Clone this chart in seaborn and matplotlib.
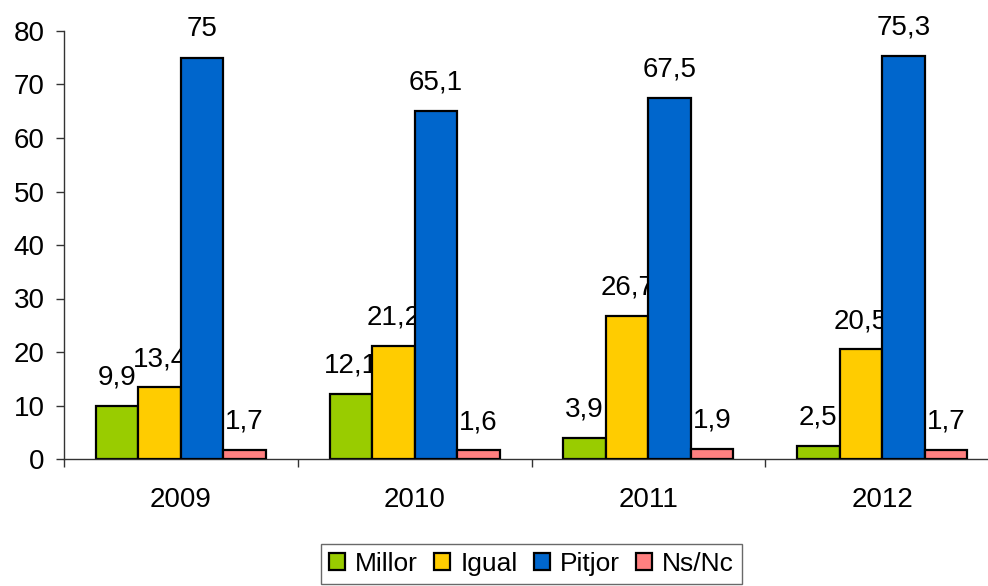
import numpy as np
import pandas as pd
import matplotlib
matplotlib.use("Agg")
import matplotlib.pyplot as plt
import seaborn as sns

years = ["2009", "2010", "2011", "2012"]
series = ["Millor", "Igual", "Pitjor", "Ns/Nc"]
millor = [9.9, 12.1, 3.9, 2.5]
igual = [13.4, 21.2, 26.7, 20.5]
pitjor = [75.0, 65.1, 67.5, 75.3]
nsnc = [1.7, 1.6, 1.9, 1.7]
colors = ["#99CC00", "#FFCC00", "#0066CC", "#FF8080"]

sns.set_style("white")
plt.rcParams['font.family'] = ['Liberation Sans', 'DejaVu Sans']
plt.rcParams['text.color'] = 'black'
plt.rcParams['xtick.color'] = 'black'
plt.rcParams['ytick.color'] = 'black'
FS = 20

df = pd.DataFrame({
    'year': years * 4,
    'serie': np.repeat(series, 4),
    'value': millor + igual + pitjor + nsnc,
})

fig = plt.figure(figsize=(9.88, 5.86), dpi=100)
ax = fig.add_axes([64 / 988, 127 / 586, 935 / 988, 428 / 586])

sns.barplot(data=df, x='year', y='value', hue='serie', order=years,
            hue_order=series, palette=colors, width=0.727, gap=0,
            edgecolor='black', linewidth=1.6, saturation=1, errorbar=None, ax=ax)

# value labels with comma decimals; later series' bars cover earlier labels
for i, cont in enumerate(ax.containers):
    for b in cont:
        b.set_zorder(2 + 2 * i)
    labels = [f"{b.get_height():g}".replace('.', ',') for b in cont]
    texts = ax.bar_label(cont, labels=labels, padding=11, fontsize=FS)
    for t in texts:
        t.set_zorder(3 + 2 * i)

ax.set_ylim(0, 80)
ax.set_xlim(-0.5, 3.5)
ax.set_yticks(range(0, 81, 10))
ax.tick_params(axis='y', labelsize=FS, length=6, width=1, color='#333333',
               left=True, pad=8)

# boundary ticks as major, year labels as minor
ax.set_xticks(np.arange(-0.5, 4, 1))
ax.set_xticklabels([])
ax.set_xticks(range(4), labels=years, minor=True)
ax.tick_params(axis='x', which='major', length=6, width=1, color='#333333',
               bottom=True)
ax.tick_params(axis='x', which='minor', length=0, labelsize=FS, pad=20)
ax.set_xlabel('')
ax.set_ylabel('')

for s in ['top', 'right']:
    ax.spines[s].set_visible(False)
for s in ['left', 'bottom']:
    ax.spines[s].set_color('#333333')
    ax.spines[s].set_linewidth(1)

sns.move_legend(ax, 'upper center', bbox_to_anchor=(0.5, -0.199), ncol=4,
                title=None, frameon=True, fontsize=19, fancybox=False,
                edgecolor='#444444', handlelength=0.62, handleheight=0.62,
                handletextpad=0.38, columnspacing=0.6, borderpad=0.3,
                borderaxespad=0)
leg = ax.get_legend()
leg.get_frame().set_linewidth(1)
for h in leg.legend_handles:
    h.set_edgecolor('black')
    h.set_linewidth(1.6)

plt.savefig('out.png', dpi=100)
